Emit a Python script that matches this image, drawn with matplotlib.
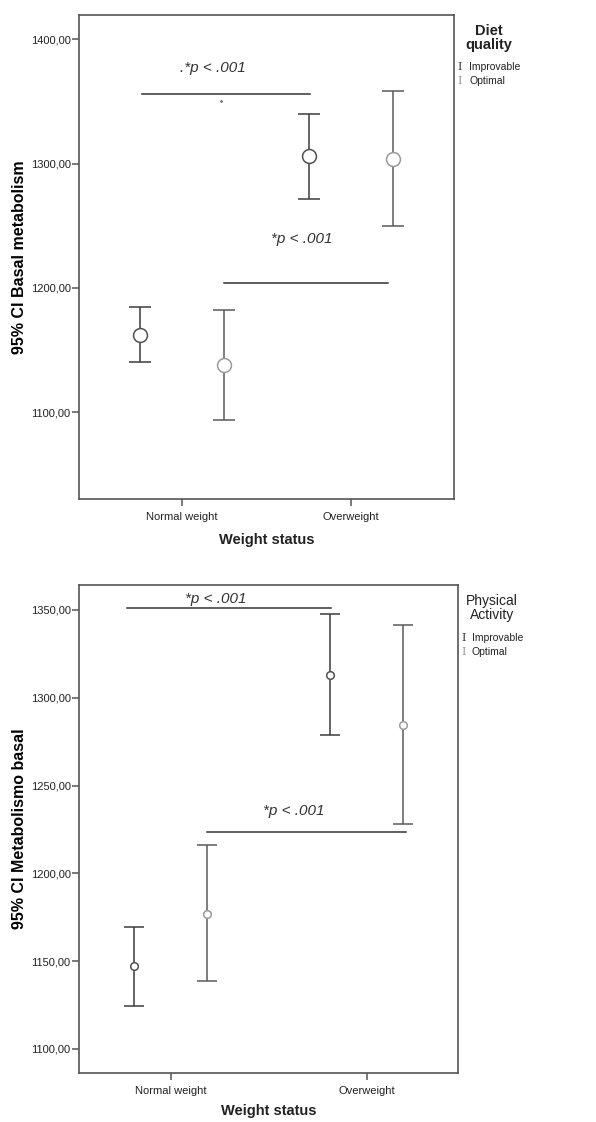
import numpy as np
import matplotlib
matplotlib.use("Agg")
import matplotlib.pyplot as plt
from matplotlib.ticker import FuncFormatter

plt.rcParams["font.family"] = ["Liberation Sans", "DejaVu Sans"]

groups = ["Normal weight", "Overweight"]
series = ["Improvable", "Optimal"]

# top panel: diet quality
diet_mean = {"Improvable": [1162.5, 1305.8], "Optimal": [1138.2, 1303.9]}
diet_low = {"Improvable": [1140.3, 1271.5], "Optimal": [1094.2, 1249.6]}
diet_high = {"Improvable": [1184.7, 1340.0], "Optimal": [1182.6, 1358.5]}

# bottom panel: physical activity
pa_mean = {"Improvable": [1147.2, 1312.9], "Optimal": [1177.1, 1284.6]}
pa_low = {"Improvable": [1124.7, 1278.8], "Optimal": [1138.6, 1228.2]}
pa_high = {"Improvable": [1169.5, 1347.6], "Optimal": [1216.0, 1341.6]}

W, H = 596, 1122
fig = plt.figure(figsize=(W / 100, H / 100), dpi=100, facecolor="white")

DARK = "#3c3c3c"
BAR_OPT = "#5a5a5a"
LIGHT = "#9a9a9a"
SPINE = "#555555"


def px_axes(x0, y0, x1, y1):
    return fig.add_axes([x0 / W, 1 - y1 / H, (x1 - x0) / W, (y1 - y0) / H])


def comma_fmt(v, _):
    return f"{v:.2f}".replace(".", ",")


def draw_panel(ax, mean, low, high, offset, msize, capsize, ylim, xlim, yticks):
    x = np.arange(len(groups))
    for s, off in zip(series, [-offset, offset]):
        m = np.array(mean[s])
        err = [m - np.array(low[s]), np.array(high[s]) - m]
        ecol = DARK if s == "Improvable" else BAR_OPT
        mcol = "#505050" if s == "Improvable" else LIGHT
        ax.errorbar(x + off, m, yerr=err, fmt="none", ecolor=ecol,
                    elinewidth=1.1, capsize=capsize, capthick=1.1, zorder=2)
        ax.plot(x + off, m, "o", ms=msize, mfc="white", mec=mcol,
                mew=1.1, zorder=3)
    ax.set_xlim(*xlim)
    ax.set_ylim(*ylim)
    ax.set_xticks(x)
    ax.set_xticklabels(groups, fontsize=8, color="#222222")
    ax.set_yticks(yticks)
    ax.yaxis.set_major_formatter(FuncFormatter(comma_fmt))
    ax.tick_params(axis="y", labelsize=8, length=5, width=1.1,
                   color=SPINE, labelcolor="#222222", pad=1)
    ax.tick_params(axis="x", length=5, width=1.1, color=SPINE, pad=4)
    for sp in ax.spines.values():
        sp.set_color(SPINE)
        sp.set_linewidth(1.2)


# ── Top panel ────────────────────────────────────────────────────────────
ax1 = px_axes(79, 15, 454, 499)
draw_panel(ax1, diet_mean, diet_low, diet_high, 0.249, 10, 8,
           (1030.5, 1419.3), (-0.609, 1.609), [1100, 1200, 1300, 1400])
ax1.plot([-0.237, 0.757], [1355.6, 1355.6], color="#333333", lw=1.1)
ax1.plot([0.249, 1.219], [1204.0, 1204.0], color="#333333", lw=1.1)
ax1.plot([0.23], [1350.5], "o", ms=1, color="#777777")
ax1.text(0.18, 1377, ".*p < .001", fontsize=11, style="italic",
         ha="center", va="center", color="#333333")
ax1.text(0.71, 1239, "*p < .001", fontsize=11, style="italic",
         ha="center", va="center", color="#333333")
ax1.set_ylabel("95% CI Basal metabolism", fontsize=11.5, fontweight="bold",
               labelpad=3)
ax1.set_xlabel("Weight status", fontsize=10.5, fontweight="bold", labelpad=8,
               color="#222222")

fig.text(489 / W, 1 - 38 / H, "Diet\nquality", fontsize=10.5,
         fontweight="bold", ha="center", va="center", linespacing=1.0,
         color="#222222")
fig.text(460 / W, 1 - 67 / H, "I", family="DejaVu Serif", fontsize=8,
         color=DARK, ha="center", va="center")
fig.text(469 / W, 1 - 67 / H, "Improvable", fontsize=7.5, ha="left",
         va="center", color="#222222")
fig.text(460 / W, 1 - 81 / H, "I", family="DejaVu Serif", fontsize=8,
         color=LIGHT, ha="center", va="center")
fig.text(469 / W, 1 - 81 / H, "Optimal", fontsize=7.5, ha="left",
         va="center", color="#222222")

# ── Bottom panel ─────────────────────────────────────────────────────────
ax2 = px_axes(79, 585, 458, 1073)
draw_panel(ax2, pa_mean, pa_low, pa_high, 0.186, 5.5, 7,
           (1086.3, 1364.2), (-0.468, 1.466),
           [1100, 1150, 1200, 1250, 1300, 1350])
ax2.plot([-0.224, 0.817], [1351.0, 1351.0], color="#333333", lw=1.1)
ax2.plot([0.184, 1.199], [1223.7, 1223.7], color="#333333", lw=1.1)
ax2.text(0.23, 1356.5, "*p < .001", fontsize=11, style="italic",
         ha="center", va="center", color="#333333")
ax2.text(0.63, 1235.5, "*p < .001", fontsize=11, style="italic",
         ha="center", va="center", color="#333333")
ax2.set_ylabel("95% CI Metabolismo basal", fontsize=11.5, fontweight="bold",
               labelpad=3)
ax2.set_xlabel("Weight status", fontsize=10.5, fontweight="bold", labelpad=6,
               color="#222222")

fig.text(492 / W, 1 - 608 / H, "Physical\nActivity", fontsize=10,
         ha="center", va="center", linespacing=1.0, color="#222222")
fig.text(464 / W, 1 - 638 / H, "I", family="DejaVu Serif", fontsize=8,
         color=DARK, ha="center", va="center")
fig.text(472 / W, 1 - 638 / H, "Improvable", fontsize=7.5, ha="left",
         va="center", color="#222222")
fig.text(464 / W, 1 - 652 / H, "I", family="DejaVu Serif", fontsize=8,
         color=LIGHT, ha="center", va="center")
fig.text(472 / W, 1 - 652 / H, "Optimal", fontsize=7.5, ha="left",
         va="center", color="#222222")

fig.savefig("out.png", dpi=100, facecolor="white")
